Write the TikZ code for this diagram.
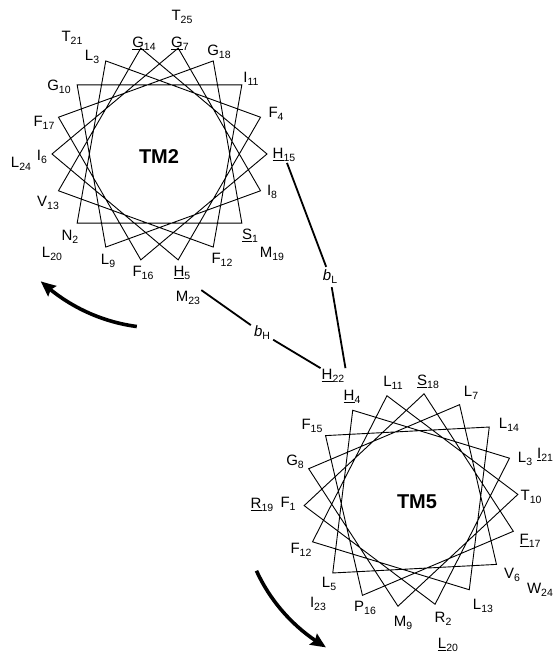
\documentclass[tikz,border=0pt]{standalone}
\usepackage{fontspec}
\setmainfont{Liberation Sans}
\usetikzlibrary{arrows.meta,bending}

% residue letter with its position number set as a subscript
\newcommand{\res}[2]{#1\raisebox{-3pt}{\fontsize{10.5}{10.5}\selectfont #2}}
\newcommand{\ures}[2]{\res{\underline{#1}}{#2}}
\newcommand{\bond}[2]{\textit{#1}\raisebox{-3pt}{\fontsize{10.5}{10.5}\selectfont #2}}

\begin{document}
\begin{tikzpicture}[x=1pt,y=-1pt,
  wheel/.style={line width=0.9pt, line join=miter},
  lab/.style={font=\fontsize{15}{15}\selectfont, inner sep=1pt},
  helixname/.style={font=\fontsize{20}{20}\selectfont\bfseries},
  bondlab/.style={font=\fontsize{15}{15}\selectfont, inner sep=3pt},
  conn/.style={line width=1.8pt},
  turn/.style={line width=3.6pt, -{Stealth[length=15pt,width=13pt,inset=2pt,bend]}}]
\useasboundingbox (0,0) rectangle (555,655);

% wheel centres
\coordinate (c2) at (159.5,154);
\coordinate (c5) at (411,500);

% residue positions, 100 degrees apart
\foreach \n in {1,...,18}{
  \pgfmathsetmacro{\a}{40+100*(\n-1)}
  \coordinate (p\n) at ([shift={(\a:107.5)}]c2);
  \pgfmathsetmacro{\b}{-183-100*(\n-1)}
  \coordinate (q\n) at ([shift={(\b:107)}]c5);
}

% TM2 wheel
\draw[wheel] (p1) -- (p2) -- (p3) -- (p4) -- (p5) -- (p6) -- (p7) -- (p8) -- (p9)
  -- (p10) -- (p11) -- (p12) -- (p13) -- (p14) -- (p15) -- (p16) -- (p17) -- (p18) -- cycle;
% TM5 wheel
\draw[wheel] (q1) -- (q2) -- (q3) -- (q4) -- (q5) -- (q6) -- (q7) -- (q8) -- (q9)
  -- (q10) -- (q11) -- (q12) -- (q13) -- (q14) -- (q15) -- (q16) -- (q17) -- (q18) -- cycle;

\node[helixname] (tm2) at (159,157) {TM2};
\node[helixname] (tm5) at (417,502) {TM5};

% TM2 residues
\node[lab] (a1)  at (250,236) {\ures{S}{1}};
\node[lab] (a2)  at (70,237)  {\res{N}{2}};
\node[lab] (a3)  at (92,57)   {\res{L}{3}};
\node[lab] (a4)  at (276,114) {\res{F}{4}};
\node[lab] (a5)  at (182,273) {\ures{H}{5}};
\node[lab] (a6)  at (42,157)  {\res{I}{6}};
\node[lab] (a7)  at (180,44)  {\ures{G}{7}};
\node[lab] (a8)  at (272,192) {\res{I}{8}};
\node[lab] (a9)  at (108,261) {\res{L}{9}};
\node[lab] (a10) at (59,87)   {\res{G}{10}};
\node[lab] (a11) at (251,79)  {\res{I}{11}};
\node[lab] (a12) at (222,260) {\res{F}{12}};
\node[lab] (a13) at (48,203)  {\res{V}{13}};
\node[lab] (a14) at (144,44)  {\ures{G}{14}};
\node[lab] (a15) at (284,155) {\ures{H}{15}};
\node[lab] (a16) at (143,273) {\res{F}{16}};
\node[lab] (a17) at (44,123)  {\res{F}{17}};
\node[lab] (a18) at (219,52)  {\res{G}{18}};
\node[lab] (a19) at (272,254) {\res{M}{19}};
\node[lab] (a20) at (52,254)  {\res{L}{20}};
\node[lab] (a21) at (72,38)   {\res{T}{21}};
\node[lab] (a23) at (188,298) {\res{M}{23}};
\node[lab] (a24) at (21,164)  {\res{L}{24}};
\node[lab] (a25) at (182,17)  {\res{T}{25}};

% TM5 residues
\node[lab] (e1)  at (288,504) {\res{F}{1}};
\node[lab] (e2)  at (443,619) {\res{R}{2}};
\node[lab] (e3)  at (525,459) {\res{L}{3}};
\node[lab] (e4)  at (352,397) {\ures{H}{4}};
\node[lab] (e5)  at (329,584) {\res{L}{5}};
\node[lab] (e6)  at (512,575) {\res{V}{6}};
\node[lab] (e7)  at (471,393) {\res{L}{7}};
\node[lab] (e8)  at (295,462) {\res{G}{8}};
\node[lab] (e9)  at (403,623) {\res{M}{9}};
\node[lab] (e10) at (531,497) {\res{T}{10}};
\node[lab] (e11) at (393,383) {\res{L}{11}};
\node[lab] (e12) at (301,550) {\res{F}{12}};
\node[lab] (e13) at (483,606) {\res{L}{13}};
\node[lab] (e14) at (509,425) {\res{L}{14}};
\node[lab] (e15) at (312,426) {\res{F}{15}};
\node[lab] (e16) at (365,608) {\res{P}{16}};
\node[lab] (e17) at (530,541) {\ures{F}{17}};
\node[lab] (e18) at (428,382) {\ures{S}{18}};
\node[lab] (e19) at (262,505) {\ures{R}{19}};
\node[lab] (e20) at (448,645) {\ures{L}{20}};
\node[lab] (e21) at (545,455) {\ures{I}{21}};
\node[lab] (e22) at (333,376) {\ures{H}{22}};
\node[lab] (e23) at (318,604) {\res{I}{23}};
\node[lab] (e24) at (540,590) {\res{W}{24}};

% inter-helix bonds
\node[bondlab] (bL) at (330,277) {\bond{b}{L}};
\node[bondlab] (bH) at (262,333) {\bond{b}{H}};
\draw[conn] (a15) -- (bL);
\draw[conn] (bL) -- (e22.north east);
\draw[conn] (a23.north east) -- (bH);
\draw[conn] (bH) -- (e22.north west);

% rotation arrows
\coordinate (r2s) at ([shift={(97.5:174)}]c2);
\coordinate (r5s) at ([shift={(155.4:170)}]c5);
\draw[turn] (r2s) arc[start angle=97.5, end angle=133, radius=174];
\draw[turn] (r5s) arc[start angle=155.4, end angle=120, radius=170];
\end{tikzpicture}
\end{document}
